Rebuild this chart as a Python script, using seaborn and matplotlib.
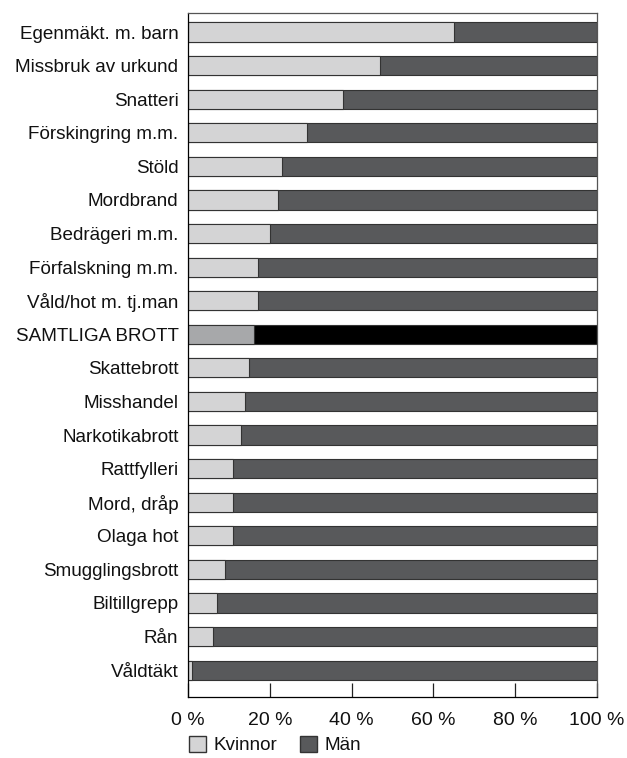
import numpy as np
import pandas as pd
import seaborn as sns
import matplotlib.pyplot as plt
from matplotlib.patches import Patch

categories = ['Egenmäkt. m. barn', 'Missbruk av urkund', 'Snatteri', 'Förskingring m.m.',
              'Stöld', 'Mordbrand', 'Bedrägeri m.m.', 'Förfalskning m.m.',
              'Våld/hot m. tj.man', 'SAMTLIGA BROTT', 'Skattebrott', 'Misshandel',
              'Narkotikabrott', 'Rattfylleri', 'Mord, dråp', 'Olaga hot',
              'Smugglingsbrott', 'Biltillgrepp', 'Rån', 'Våldtäkt']
kvinnor = [65, 47, 38, 29, 23, 22, 20, 17, 17, 16, 15, 14, 13, 11, 11, 11, 9, 7, 6, 1]
total = [100] * len(categories)
highlight = 'SAMTLIGA BROTT'

sns.set_theme(style='white')
plt.rcParams['font.family'] = ['Liberation Sans', 'DejaVu Sans']
plt.rcParams['text.color'] = '#111111'
plt.rcParams['xtick.color'] = '#111111'
plt.rcParams['ytick.color'] = '#111111'

light, dark = '#d4d4d5', '#58595b'
hl_light, hl_dark = '#a7a8aa', '#000000'

df = pd.DataFrame({'brott': categories, 'kvinnor': kvinnor, 'total': total})
men_pal = {c: (hl_dark if c == highlight else dark) for c in categories}
wom_pal = {c: (hl_light if c == highlight else light) for c in categories}

fig = plt.figure(figsize=(6.27, 7.58), dpi=100)
ax = fig.add_axes([0.30, 0.0805, 0.652, 0.9025])

# men = full bar, women drawn on top from 0
sns.barplot(data=df, y='brott', x='total', hue='brott', palette=men_pal, legend=False,
            orient='h', width=0.57, edgecolor='#333333', linewidth=0.8, ax=ax)
sns.barplot(data=df, y='brott', x='kvinnor', hue='brott', palette=wom_pal, legend=False,
            orient='h', width=0.57, edgecolor='#333333', linewidth=0.8, ax=ax)

ax.set_xlim(0, 100)
ax.set_ylim(19.8, -0.57)
ax.set_xticks([0, 20, 40, 60, 80, 100])
ax.set_xticklabels([f'{t} %' for t in [0, 20, 40, 60, 80, 100]], fontsize=14)
ax.tick_params(axis='x', bottom=True, direction='in', length=10, width=0.9,
               color='#222222', pad=11)
ax.tick_params(axis='y', left=False, length=0, pad=7, labelsize=13.6)
ax.set_xlabel('')
ax.set_ylabel('')
for s in ax.spines.values():
    s.set_color('#555555')
    s.set_linewidth(0.9)
ax.spines['left'].set_color('#000000')
ax.spines['bottom'].set_color('#000000')

handles = [Patch(facecolor=light, edgecolor='#333333', label='Kvinnor'),
           Patch(facecolor=dark, edgecolor='#333333', label='Män')]
fig.legend(handles=handles, loc='center left', bbox_to_anchor=(0.275, 0.017), ncol=2,
           frameon=False, fontsize=13.6, handlelength=0.9, handleheight=0.9,
           handletextpad=0.4, columnspacing=1.2)

fig.savefig('out.png', dpi=100)
